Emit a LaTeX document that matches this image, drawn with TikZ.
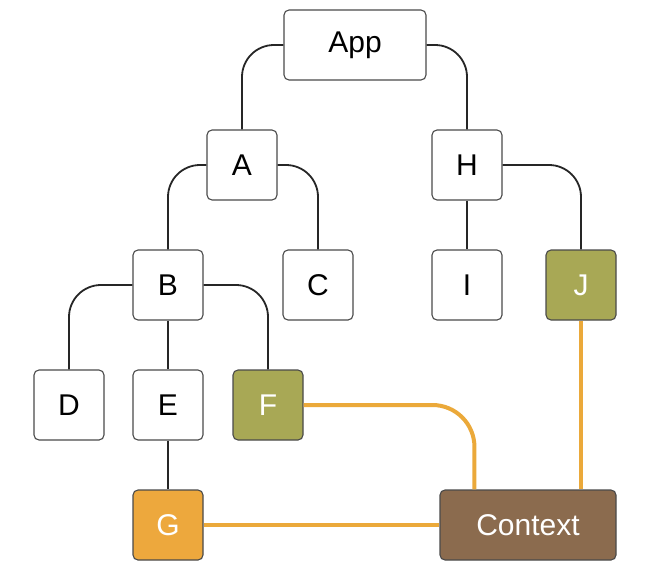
\documentclass[tikz,border=0pt]{standalone}
\usepackage{fontspec}
\setmainfont{Liberation Sans}
\definecolor{olivebox}{HTML}{A8A855}
\definecolor{orangebox}{HTML}{EDA83D}
\definecolor{brownbox}{HTML}{8B6B4E}
\definecolor{orangeline}{HTML}{EBA93A}
\definecolor{boxborder}{HTML}{4A4A4A}
\tikzset{
  x=1pt, y=-1pt,
  box/.style={draw=boxborder, line width=1.1pt, rounded corners=5pt, fill=white,
    minimum width=70pt, minimum height=70pt, inner sep=0pt, text=black,
    font=\fontsize{30}{35}\selectfont},
  wide/.style={box, minimum width=142pt},
  olive/.style={box, fill=olivebox, text=white},
  orangeb/.style={box, fill=orangebox, text=white},
  ctx/.style={box, fill=brownbox, text=white, minimum width=176pt},
  tree/.style={draw=black!85, line width=1.8pt, rounded corners=32pt},
  ctxline/.style={draw=orangeline, line width=4pt, rounded corners=42pt},
}
\begin{document}
\begin{tikzpicture}
\useasboundingbox (0,0) rectangle (666,565);
% nodes
\node[wide] (App) at (355,45) {App};
\node[box] (A) at (242,165) {A};
\node[box] (H) at (467,165) {H};
\node[box] (B) at (168,285) {B};
\node[box] (C) at (318,285) {C};
\node[box] (I) at (467,285) {I};
\node[olive] (J) at (581,285) {J};
\node[box] (D) at (69,405) {D};
\node[box] (E) at (168,405) {E};
\node[olive] (F) at (268,405) {F};
\node[orangeb] (G) at (168,525) {G};
\node[ctx] (Ctx) at (528,525) {Context};
% orange context lines
\draw[ctxline] (F.east) -| ([xshift=35pt]Ctx.north west);
\draw[ctxline] (J.south) -- (J.south |- Ctx.north);
\draw[ctxline] (G.east) -- (Ctx.west);
% tree lines
\draw[tree] (App.west) -| (A.north);
\draw[tree] (App.east) -| (H.north);
\draw[tree] (A.west) -| (B.north);
\draw[tree] (A.east) -| (C.north);
\draw[tree] (B.west) -| (D.north);
\draw[tree] (B.south) -- (E.north);
\draw[tree] (B.east) -| (F.north);
\draw[tree] (E.south) -- (G.north);
\draw[tree] (H.south) -- (I.north);
\draw[tree] (H.east) -| (J.north);
\end{tikzpicture}
\end{document}
